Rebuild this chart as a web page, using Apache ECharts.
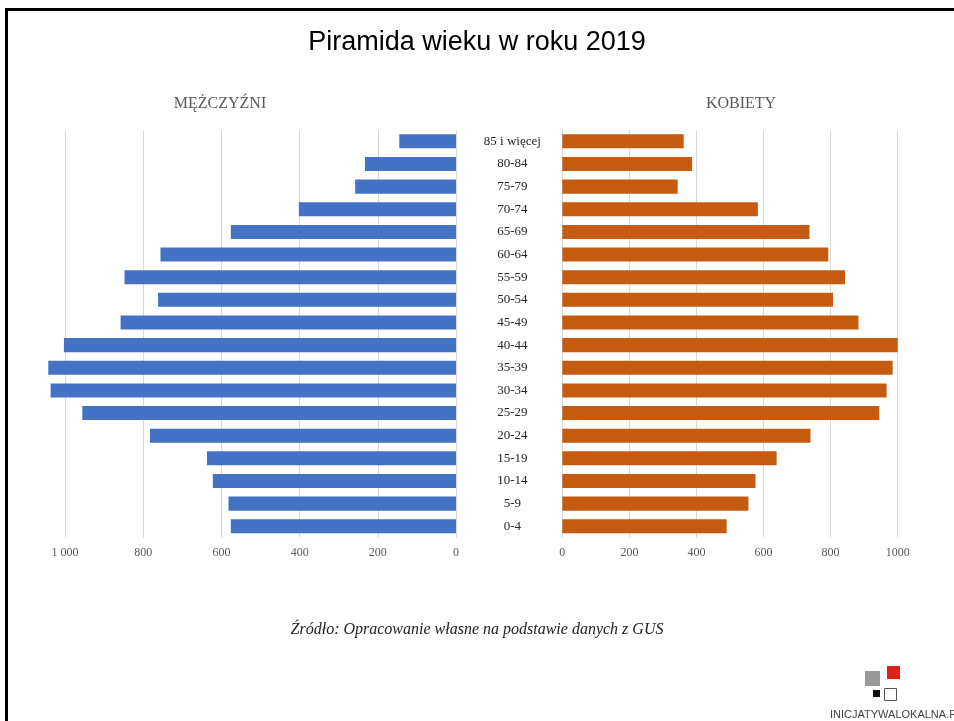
<!DOCTYPE html>
<html>
<head>
<meta charset="utf-8">
<script src="https://cdn.jsdelivr.net/npm/echarts@6/dist/echarts.min.js"></script>
<style>
html,body{margin:0;padding:0;background:#fff;}
#chart{width:954px;height:721px;}
</style>
</head>
<body>
<div id="chart"></div>
<script>
const categories = ["85 i więcej","80-84","75-79","70-74","65-69","60-64","55-59","50-54","45-49","40-44","35-39","30-34","25-29","20-24","15-19","10-14","5-9","0-4"];
const men   = [145, 233, 258, 402, 576, 756, 848, 762, 858, 1003, 1043, 1037, 956, 783, 637, 622, 582, 576];
const women = [362, 387, 344, 583, 737, 793, 843, 807, 883, 1000, 985, 967, 945, 740, 639, 576, 555, 490];
const menTicks = [0, 200, 400, 600, 800, 1000];
const womenTicks = [0, 200, 400, 600, 800, 1000];

const chart = echarts.init(document.getElementById('chart'), null, {renderer:'canvas'});
const serif = '"Liberation Serif", "DejaVu Serif", serif';
const gridTop = 130, gridH = 407.6;

chart.setOption({
  animation: false,
  backgroundColor: '#ffffff',
  title: [
    {text: 'Piramida wieku w roku 2019', left: 'center', top: 24,
     textStyle: {fontFamily: '"Liberation Sans", Arial, sans-serif', fontSize: 27, fontWeight: 'normal', color: '#000'}},
    {text: 'MĘŻCZYŹNI', left: 215, top: 91, textAlign: 'center',
     textStyle: {fontFamily: serif, fontSize: 16, fontWeight: 'normal', color: '#595959'}},
    {text: 'KOBIETY', left: 736, top: 91, textAlign: 'center',
     textStyle: {fontFamily: serif, fontSize: 16, fontWeight: 'normal', color: '#595959'}},
    {text: 'Źródło: Opracowanie własne na podstawie danych z GUS', left: 472, top: 617, textAlign: 'center',
     textStyle: {fontFamily: serif, fontSize: 16, fontStyle: 'italic', fontWeight: 'normal', color: '#222'}}
  ],
  grid: [
    {left: 26, width: 430, top: gridTop, height: gridH},
    {left: 562.3, width: 335.4, top: gridTop, height: gridH}
  ],
  xAxis: [
    {type: 'value', gridIndex: 0, inverse: true, min: 0, max: 1100, interval: 200,
     axisLine: {show: false}, axisTick: {show: false},
     splitLine: {show: true, showMaxLine: false, lineStyle: {color: '#d9d9d9', width: 1}},
     axisLabel: {showMaxLabel: false, margin: 9, fontFamily: serif, fontSize: 12, color: '#595959',
       formatter: v => menTicks.indexOf(v) >= 0 ? String(v).replace(/\B(?=(\d{3})+(?!\d))/g, ' ') : ''}},
    {type: 'value', gridIndex: 1, min: 0, max: 1000, interval: 200,
     axisLine: {show: false}, axisTick: {show: false},
     splitLine: {show: true, lineStyle: {color: '#d9d9d9', width: 1}},
     axisLabel: {margin: 9, fontFamily: serif, fontSize: 12, color: '#595959',
       formatter: v => womenTicks.indexOf(v) >= 0 ? String(v) : ''}}
  ],
  yAxis: [
    {type: 'category', gridIndex: 0, data: categories, inverse: true,
     axisLine: {show: false}, axisTick: {show: false}, axisLabel: {show: false}, splitLine: {show: false}},
    {type: 'category', gridIndex: 1, data: categories, inverse: true,
     axisLine: {show: false}, axisTick: {show: false}, splitLine: {show: false},
     axisLabel: {show: true, align: 'center', margin: 50, fontFamily: serif, fontSize: 13, color: '#262626'}}
  ],
  series: [
    {name: 'Mężczyźni', type: 'bar', xAxisIndex: 0, yAxisIndex: 0, data: men,
     barCategoryGap: '38%', itemStyle: {color: '#4472C4'}},
    {name: 'Kobiety', type: 'bar', xAxisIndex: 1, yAxisIndex: 1, data: women,
     barCategoryGap: '38%', itemStyle: {color: '#C55A11'}}
  ],
  graphic: [
    {type: 'line', shape: {x1: 5, y1: 9.5, x2: 954, y2: 9.5}, style: {stroke: '#000', lineWidth: 3}},
    {type: 'line', shape: {x1: 6.5, y1: 8, x2: 6.5, y2: 721}, style: {stroke: '#000', lineWidth: 3}},
    {type: 'rect', shape: {x: 865, y: 671, width: 15, height: 15}, style: {fill: '#999999'}},
    {type: 'rect', shape: {x: 887, y: 666, width: 13, height: 13}, style: {fill: '#e0201b'}},
    {type: 'rect', shape: {x: 873, y: 690, width: 7, height: 7}, style: {fill: '#111'}},
    {type: 'rect', shape: {x: 884.5, y: 688.5, width: 12, height: 12}, style: {fill: '#fff', stroke: '#555', lineWidth: 1}},
    {type: 'text', left: 830, top: 709, style: {text: 'INICJATYWALOKALNA.PL', fontFamily: '"Liberation Sans", sans-serif', fontSize: 11, fill: '#444'}}
  ]
});
</script>
</body>
</html>
